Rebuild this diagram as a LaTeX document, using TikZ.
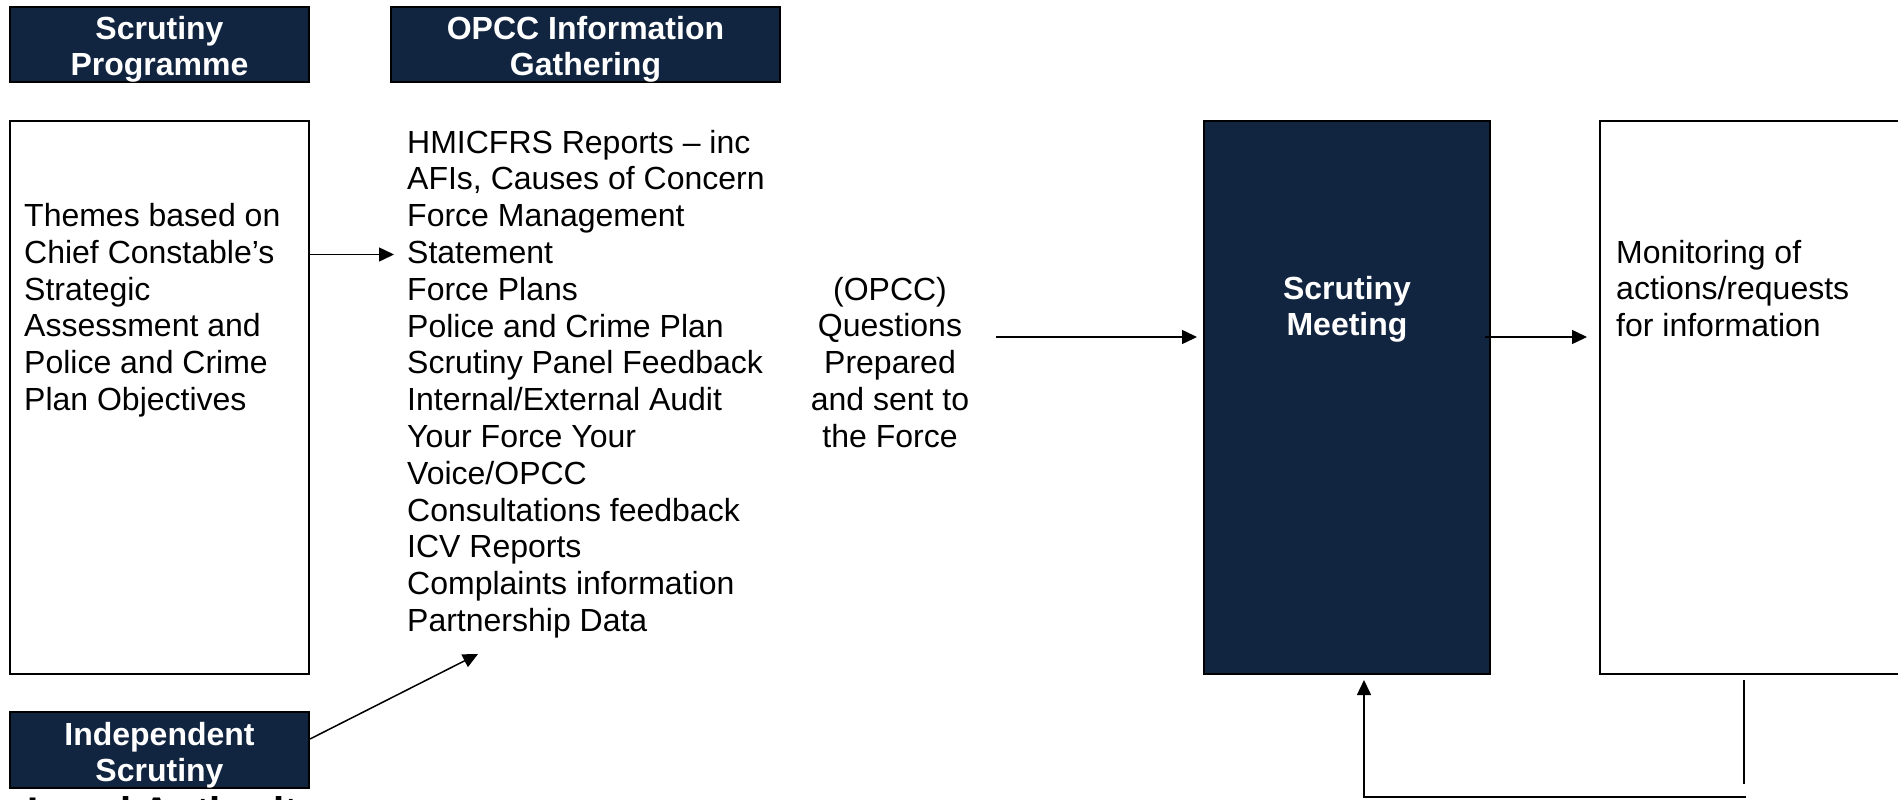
\documentclass[tikz,border=0pt]{standalone}
\usepackage{fontspec}
\setmainfont{Liberation Sans}
\usetikzlibrary{arrows.meta}
\definecolor{navy}{RGB}{18,37,64}
\newcommand\txtfont{\fontsize{32}{36.8}\selectfont}
\newcommand\hdfont{\fontsize{32}{36.2}\selectfont\bfseries}
\begin{document}
\begin{tikzpicture}[x=1pt,y=-1pt,
  box/.style={draw=black,line width=1.5pt,anchor=north west,inner sep=0,outer sep=0},
  darkbox/.style={box,fill=navy},
  txt/.style={anchor=north west,inner sep=0,align=left,font=\txtfont},
  ctxt/.style={anchor=north,inner sep=0,align=center,font=\txtfont},
  htxt/.style={anchor=north,inner sep=0,align=center,font=\hdfont,text=white},
  arr/.style={line width=1.5pt,-{Triangle[length=15pt,width=14pt]}},
  ln/.style={line width=1.5pt}]
\useasboundingbox (0,0) rectangle (1898,800);
\clip (0,0) rectangle (1898,800);

% boxes
\node[darkbox,minimum width=299pt,minimum height=75pt] (hp) at (10,7) {};
\node[darkbox,minimum width=389pt,minimum height=75pt] (ho) at (391,7) {};
\node[box,minimum width=299pt,minimum height=553pt] (themes) at (10,121) {};
\node[darkbox,minimum width=286pt,minimum height=553pt] (meet) at (1204,121) {};
\node[box,minimum width=320pt,minimum height=553pt] (mon) at (1600,121) {};
\node[darkbox,minimum width=299pt,minimum height=76pt] (ind) at (10,712) {};

% header texts
\node[htxt] (hpt) at (159.5,13.7) {\strut Scrutiny\\Programme};
\node[htxt] (hot) at (585.5,13.7) {\strut OPCC Information\\Gathering};
\node[htxt] (indt) at (159.5,719.7) {\strut Independent\\Scrutiny};
\node[htxt] (meett) at (1347,274.2) {\strut Scrutiny\\Meeting};

% body texts
\node[txt] (themest) at (24,200.5) {\strut Themes based on\\Chief Constable’s\\Strategic\\Assessment and\\Police and Crime\\Plan Objectives};
\node[txt] (list) at (407,127.2) {\strut HMICFRS Reports – inc\\AFIs, Causes of Concern\\Force Management\\Statement\\Force Plans\\Police and Crime Plan\\Scrutiny Panel Feedback\\Internal/External Audit\\Your Force Your\\Voice/OPCC\\Consultations feedback\\ICV Reports\\Complaints information\\Partnership Data};
\node[ctxt] (quest) at (890,274.2) {\strut (OPCC)\\Questions\\Prepared\\and sent to\\the Force};
\node[txt] (mont) at (1616,237.2) {\strut Monitoring of\\actions/requests\\for information};
\node[anchor=base west,inner sep=0,font=\fontsize{40}{46}\selectfont\bfseries] (la) at (27,825) {Local Authority};

% connector coordinates
\coordinate (a1s) at (310,254.5);
\coordinate (a1e) at (394,254.5);
\coordinate (a2s) at (310,739);
\coordinate (a2e) at (478,654);
\coordinate (a3s) at (996,337);
\coordinate (a3e) at (1197,337);
\coordinate (a4s) at (1485,337);
\coordinate (a4e) at (1587,337);
\coordinate (f1) at (1744,680);
\coordinate (f2) at (1744,784);
\coordinate (f3) at (1746,797);
\coordinate (f4) at (1364,797);
\coordinate (f5) at (1364,680);

\draw[arr] (a1s) -- (a1e);
\draw[arr] (a2s) -- (a2e);
\draw[arr] (a3s) -- (a3e);
\draw[arr] (a4s) -- (a4e);
\draw[ln] (f1) -- (f2);
\draw[arr] (f3) -- (f4) -- (f5);
\end{tikzpicture}
\end{document}
